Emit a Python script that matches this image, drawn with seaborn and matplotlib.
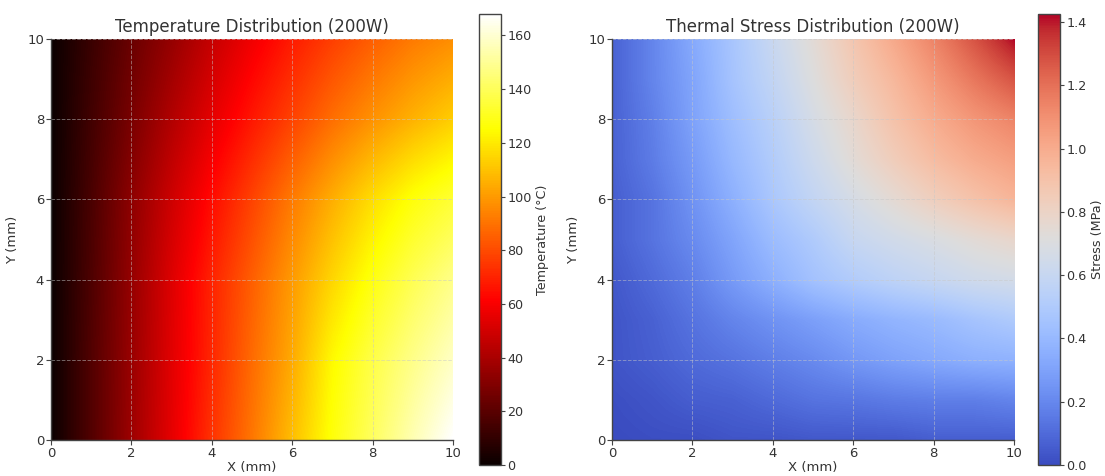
import numpy as np
import matplotlib
matplotlib.use("Agg")
import matplotlib.pyplot as plt
import seaborn as sns

# ---------------- data ----------------
x_mm = [0, 1, 2, 3, 4, 5, 6, 7, 8, 9, 10]

# Temperature (°C) at y = 0, 2, 4, 6, 8, 10 mm (rows), x = 0..10 mm (cols)
temp_y_mm = [0, 2, 4, 6, 8, 10]
temp_y0 = [0, 18, 37, 55, 74, 91, 109, 127, 141, 155, 168]
temp_y2 = [0, 18, 36, 54, 71, 88, 104, 124, 137, 148, 158]
temp_y4 = [0, 17, 35, 53, 70, 85, 100, 115, 128, 139, 148]
temp_y6 = [0, 16, 33, 49, 64, 78, 92, 105, 117, 127, 134]
temp_y8 = [0, 14, 28, 42, 55, 67, 78, 89, 98, 106, 113]
temp_y10 = [0, 12, 24, 35, 47, 58, 68, 77, 85, 92, 97]

# Thermal stress (MPa) at y = 0..10 mm (rows), x = 0..10 mm (cols)
stress_y_mm = [0, 1, 2, 3, 4, 5, 6, 7, 8, 9, 10]
stress_y0 = [0.00, 0.01, 0.01, 0.03, 0.03, 0.04, 0.04, 0.04, 0.06, 0.06, 0.06]
stress_y1 = [0.01, 0.03, 0.06, 0.07, 0.10, 0.13, 0.14, 0.16, 0.17, 0.17, 0.19]
stress_y2 = [0.03, 0.06, 0.10, 0.13, 0.17, 0.21, 0.26, 0.30, 0.33, 0.36, 0.37]
stress_y3 = [0.03, 0.07, 0.13, 0.19, 0.24, 0.29, 0.34, 0.38, 0.41, 0.46, 0.50]
stress_y4 = [0.04, 0.10, 0.17, 0.27, 0.36, 0.45, 0.51, 0.56, 0.60, 0.64, 0.66]
stress_y5 = [0.06, 0.13, 0.21, 0.31, 0.42, 0.50, 0.60, 0.65, 0.69, 0.74, 0.78]
stress_y6 = [0.06, 0.13, 0.24, 0.36, 0.48, 0.58, 0.67, 0.75, 0.83, 0.90, 0.96]
stress_y7 = [0.07, 0.16, 0.27, 0.40, 0.51, 0.63, 0.74, 0.84, 0.93, 1.00, 1.05]
stress_y8 = [0.07, 0.17, 0.30, 0.43, 0.54, 0.67, 0.78, 0.90, 1.00, 1.08, 1.14]
stress_y9 = [0.07, 0.19, 0.31, 0.46, 0.58, 0.71, 0.84, 0.95, 1.07, 1.18, 1.28]
stress_y10 = [0.07, 0.19, 0.33, 0.47, 0.61, 0.74, 0.88, 1.01, 1.14, 1.28, 1.425]

ticks = [0, 2, 4, 6, 8, 10]
titles = ["Temperature Distribution (200W)", "Thermal Stress Distribution (200W)"]
cbar_labels = ["Temperature (°C)", "Stress (MPa)"]

# ---------------- style ----------------
sns.set_theme(style="ticks")
TXT = "#333333"
plt.rcParams.update({
    "font.family": ["DejaVu Sans"],
    "text.color": TXT,
    "axes.labelcolor": TXT,
    "xtick.color": "#444444",
    "ytick.color": "#444444",
    "xtick.labelcolor": TXT,
    "ytick.labelcolor": TXT,
    "xtick.labelsize": 9.5,
    "ytick.labelsize": 9.5,
    "axes.edgecolor": "#444444",
})

T = np.array([temp_y0, temp_y2, temp_y4, temp_y6, temp_y8, temp_y10], dtype=float)
S = np.array([stress_y0, stress_y1, stress_y2, stress_y3, stress_y4, stress_y5,
              stress_y6, stress_y7, stress_y8, stress_y9, stress_y10], dtype=float)

fig = plt.figure(figsize=(11.05, 4.76), dpi=100)
W, H = 1105, 476

def fpos(x0, y0, x1, y1):
    return [x0 / W, 1 - y1 / H, (x1 - x0) / W, (y1 - y0) / H]

ax1 = fig.add_axes(fpos(51, 39, 453, 440))
cax1 = fig.add_axes(fpos(479, 14, 501, 465))
ax2 = fig.add_axes(fpos(612, 39, 1014, 440))
cax2 = fig.add_axes(fpos(1038, 14, 1060, 465))

hot = plt.get_cmap("hot")
coolwarm = sns.color_palette("coolwarm", as_cmap=True)

def grid_extent(xs, ys):
    dx = (xs[-1] - xs[0]) / (len(xs) - 1)
    dy = (ys[-1] - ys[0]) / (len(ys) - 1)
    return [xs[0] - dx / 2, xs[-1] + dx / 2, ys[0] - dy / 2, ys[-1] + dy / 2]

m1 = ax1.imshow(T, origin="lower", extent=grid_extent(x_mm, temp_y_mm),
                cmap=hot, vmin=0, vmax=T.max(), interpolation="bilinear",
                aspect="auto", zorder=0)
m2 = ax2.imshow(S, origin="lower", extent=grid_extent(x_mm, stress_y_mm),
                cmap=coolwarm, vmin=0, vmax=S.max(), interpolation="bilinear",
                aspect="auto", zorder=0)

for ax, m, cax, title, cl in [(ax1, m1, cax1, titles[0], cbar_labels[0]),
                               (ax2, m2, cax2, titles[1], cbar_labels[1])]:
    ax.set_xlim(0, 10)
    ax.set_ylim(0, 10)
    ax.set_xticks(ticks)
    ax.set_yticks(ticks)
    ax.set_title(title, fontsize=12, color=TXT, pad=5)
    ax.set_xlabel("X (mm)", fontsize=9.5, labelpad=1)
    ax.set_ylabel("Y (mm)", fontsize=9.5, labelpad=6)
    ax.grid(True, linestyle="--", color="#c8c8c8", alpha=0.5, linewidth=0.7, zorder=1)
    ax.set_axisbelow(False)
    ax.tick_params(length=3.5, width=0.8, pad=1.5)
    ax.spines["top"].set_visible(False)
    ax.spines["right"].set_visible(False)
    for s in ("left", "bottom"):
        ax.spines[s].set_linewidth(1.0)
        ax.spines[s].set_zorder(5)
    cb = fig.colorbar(m, cax=cax)
    cb.set_label(cl, fontsize=9.2, color=TXT, labelpad=3)
    cb.outline.set_edgecolor("#444444")
    cb.outline.set_linewidth(1.0)
    cax.tick_params(length=3.0, width=0.8, pad=1.5, labelsize=9.2)

fig.savefig("out.png", dpi=100)
